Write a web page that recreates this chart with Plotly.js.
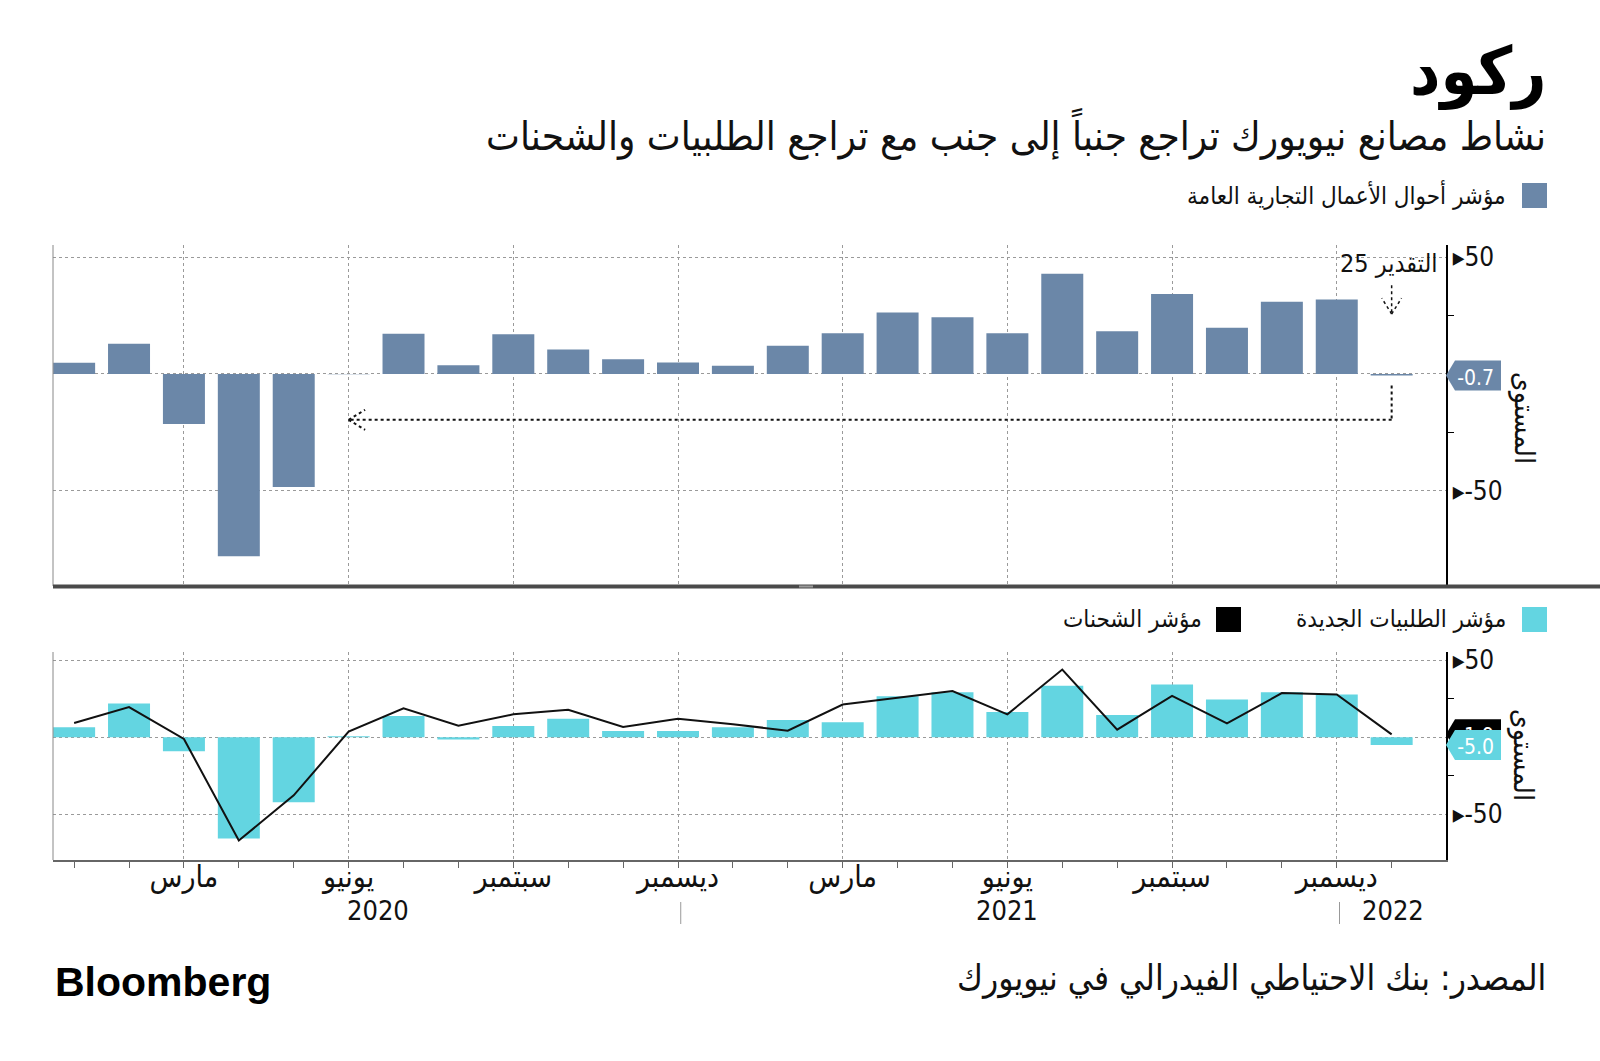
<!DOCTYPE html>
<html>
<head>
<meta charset="utf-8">
<script src="https://cdn.plot.ly/plotly-3.0.1.min.js"></script>
<style>
html,body{margin:0;padding:0;background:#fff;}
#chart{width:1600px;height:1061px;}
</style>
</head>
<body>
<div id="chart"></div>
<script>
// ---- data ----
const months = ['2020-01','2020-02','2020-03','2020-04','2020-05','2020-06','2020-07','2020-08','2020-09','2020-10','2020-11','2020-12',
                '2021-01','2021-02','2021-03','2021-04','2021-05','2021-06','2021-07','2021-08','2021-09','2021-10','2021-11','2021-12','2022-01'];
const businessIndex = [4.8, 12.9, -21.5, -78.2, -48.5, -0.2, 17.2, 3.7, 17.0, 10.5, 6.3, 4.9,
                       3.5, 12.1, 17.4, 26.3, 24.3, 17.4, 43.0, 18.3, 34.3, 19.8, 30.9, 31.9, -0.7];
const newOrders = [6.5, 22.0, -9.0, -65.7, -42.2, 0.7, 13.8, -1.5, 7.3, 12.1, 4.1, 4.1,
                   6.5, 11.2, 9.7, 26.7, 29.3, 16.4, 33.4, 14.4, 34.3, 24.6, 29.3, 27.8, -5.0];
const shipments = [9.3, 19.6, -1.1, -67.0, -37.7, 3.7, 18.8, 7.5, 14.9, 17.9, 6.7, 12.1,
                   8.5, 4.3, 21.3, 25.5, 30.0, 14.9, 44.0, 5.0, 26.9, 9.0, 28.7, 27.8, 1.9];
const monthTickLabels = ['مارس','يونيو','سبتمبر','ديسمبر','مارس','يونيو','سبتمبر','ديسمبر'];
const monthTickIdx = [2,5,8,11,14,17,20,23];
const yearLabels = ['2020','2021','2022'];
const yTickVals = [-50, 0, 50];
const yTickText = ['▸-50', '', '▸50'];

const titleText = 'ركود';
const subtitleText = 'نشاط مصانع نيويورك تراجع جنباً إلى جنب مع تراجع الطلبيات والشحنات';
const legendBusiness = 'مؤشر أحوال الأعمال التجارية العامة';
const legendOrders = 'مؤشر الطلبيات الجديدة';
const legendShip = 'مؤشر الشحنات';
const yTitle = 'المستوى';
const estimateText = '\u202Bالتقدير 25\u202C';
const sourceText = 'المصدر: بنك الاحتياطي الفيدرالي في نيويورك';

// ---- styling ----
const W = 1600, H = 1061;
const px = v => v / W;
const py = v => 1 - v / H;
const slate = '#6b87a8';
const cyan = '#63d5e1';
const AR = '"DejaVu Sans Condensed", "DejaVu Sans", sans-serif';
const NUM = '"Liberation Sans Narrow", "DejaVu Sans Condensed", sans-serif';
const x = months.map((m, i) => i);
const xRange = [-0.385, 24.99];
const xDom = [px(53), px(1446)];
const yDomTop = [py(586), py(245)];
const yDomBot = [py(860), py(652)];
const gridStyle = {showgrid: true, gridcolor: '#9a9a9a', gridwidth: 1, griddash: 'dot', zeroline: false};

const traces = [
  {type: 'bar', x: x, y: businessIndex, xaxis: 'x', yaxis: 'y', marker: {color: slate}, hoverinfo: 'y'},
  {type: 'bar', x: x, y: newOrders, xaxis: 'x2', yaxis: 'y2', marker: {color: cyan}, hoverinfo: 'y'},
  {type: 'scatter', mode: 'lines', x: x, y: shipments, xaxis: 'x2', yaxis: 'y2', line: {color: '#111', width: 2}, hoverinfo: 'y'}
];

function yAxis(dom, range, anchor) {
  return Object.assign({
    domain: dom, range: range, anchor: anchor, side: 'right',
    showline: true, linecolor: '#000', linewidth: 1.5,
    tickmode: 'array', tickvals: yTickVals, ticktext: yTickText, ticks: '',
    tickfont: {family: NUM, size: 26, color: '#111'},
    minor: {tickmode: 'array', tickvals: [-25, 25], ticks: 'outside', ticklen: 6, tickcolor: '#000', showgrid: false},
    fixedrange: true
  }, gridStyle);
}

function tag(yref, value, color, text) {
  return {
    type: 'path', xref: 'paper', yref: yref, xsizemode: 'pixel', ysizemode: 'pixel',
    xanchor: px(1446), yanchor: value,
    path: 'M 0,0 L 9,15 L 55,15 L 55,-15 L 9,-15 Z',
    fillcolor: color, line: {width: 0},
    label: {text: text, font: {family: NUM, size: 21, color: '#fff'}, textposition: 'middle right', padding: 4}
  };
}

const dotLine = {color: '#111', width: 2, dash: 'dot'};
const shapes = [
  // left borders
  {type: 'line', xref: 'paper', yref: 'paper', x0: px(53), x1: px(53), y0: yDomTop[0], y1: yDomTop[1], line: {color: '#888', width: 1}},
  {type: 'line', xref: 'paper', yref: 'paper', x0: px(53), x1: px(53), y0: yDomBot[0], y1: yDomBot[1], line: {color: '#888', width: 1}},
  // separator
  {type: 'line', xref: 'paper', yref: 'paper', x0: px(53), x1: 1, y0: py(586.5), y1: py(586.5), line: {color: '#4a4a4a', width: 4}},
  {type: 'rect', xref: 'paper', yref: 'paper', x0: px(799), x1: px(813), y0: py(587.5), y1: py(585.5), fillcolor: '#9a9a9a', line: {width: 0}},
  // callout from Jan 2022 back to Jun 2020
  {type: 'line', xref: 'x', yref: 'y', x0: 24, x1: 24, y0: -5, y1: -19.7, line: dotLine},
  {type: 'line', xref: 'x', yref: 'y', x0: 24, x1: 5, y0: -19.7, y1: -19.7, line: dotLine},
  {type: 'line', xref: 'x', yref: 'y', x0: 5, x1: 5.3, y0: -19.7, y1: -15.4, line: dotLine},
  {type: 'line', xref: 'x', yref: 'y', x0: 5, x1: 5.3, y0: -19.7, y1: -24.0, line: dotLine},
  // estimate arrow
  {type: 'line', xref: 'x', yref: 'y', x0: 24, x1: 24, y0: 38, y1: 25.7, line: {color: '#111', width: 1.5, dash: 'dot'}},
  {type: 'line', xref: 'x', yref: 'y', x0: 24, x1: 23.82, y0: 25.7, y1: 32.5, line: {color: '#111', width: 1.5, dash: 'dot'}},
  {type: 'line', xref: 'x', yref: 'y', x0: 24, x1: 24.18, y0: 25.7, y1: 32.5, line: {color: '#111', width: 1.5, dash: 'dot'}},
  // year separators
  {type: 'line', xref: 'x2', yref: 'paper', x0: 11.05, x1: 11.05, y0: py(924), y1: py(902), line: {color: '#999', width: 1}},
  {type: 'line', xref: 'x2', yref: 'paper', x0: 23.05, x1: 23.05, y0: py(924), y1: py(902), line: {color: '#999', width: 1}},
  // legend squares
  {type: 'rect', xref: 'paper', yref: 'paper', x0: px(1522), x1: px(1547), y0: py(208), y1: py(183), fillcolor: slate, line: {width: 0}},
  {type: 'rect', xref: 'paper', yref: 'paper', x0: px(1522), x1: px(1547), y0: py(632), y1: py(607), fillcolor: cyan, line: {width: 0}},
  {type: 'rect', xref: 'paper', yref: 'paper', x0: px(1216), x1: px(1241), y0: py(632), y1: py(607), fillcolor: '#000', line: {width: 0}},
  // value tags
  tag('y', businessIndex[businessIndex.length - 1], slate, businessIndex[businessIndex.length - 1].toFixed(1)),
  tag('y2', shipments[shipments.length - 1], '#000', shipments[shipments.length - 1].toFixed(1)),
  tag('y2', newOrders[newOrders.length - 1], cyan, newOrders[newOrders.length - 1].toFixed(1))
];

function txt(t, xpx, ypx, size, opts) {
  return Object.assign({
    text: t, xref: 'paper', yref: 'paper', x: px(xpx), y: py(ypx),
    xanchor: 'right', yanchor: 'middle', showarrow: false,
    font: {family: AR, size: size, color: '#111'}
  }, opts || {});
}

const annotations = [
  txt('<b>' + titleText + '</b>', 1548, 72, 66, {font: {family: AR, size: 66, color: '#000'}}),
  txt(subtitleText, 1548, 134, 40),
  txt(legendBusiness, 1508, 195, 24),
  txt(legendOrders, 1508, 619, 24),
  txt(legendShip, 1204, 619, 24),
  txt(sourceText, 1548, 978, 35),
  txt('<b>Bloomberg</b>', 53, 982, 40, {xanchor: 'left', font: {family: '"Liberation Sans", Arial, sans-serif', size: 41, color: '#000'}}),
  txt(yTitle, 1524, 418, 28, {xanchor: 'center', textangle: 90}),
  txt(yTitle, 1524, 755, 28, {xanchor: 'center', textangle: 90}),
  txt(estimateText, 1440, 263, 25),
  {text: yearLabels[0], xref: 'x2', yref: 'paper', x: 5.53, y: py(910), xanchor: 'center', yanchor: 'middle', showarrow: false, font: {family: NUM, size: 27, color: '#111'}},
  {text: yearLabels[1], xref: 'x2', yref: 'paper', x: 17.0, y: py(910), xanchor: 'center', yanchor: 'middle', showarrow: false, font: {family: NUM, size: 27, color: '#111'}},
  {text: yearLabels[2], xref: 'x2', yref: 'paper', x: 24.02, y: py(910), xanchor: 'center', yanchor: 'middle', showarrow: false, font: {family: NUM, size: 27, color: '#111'}}
];

const layout = {
  width: W, height: H,
  margin: {l: 0, r: 0, t: 0, b: 0},
  paper_bgcolor: '#fff', plot_bgcolor: 'rgba(0,0,0,0)',
  showlegend: false,
  bargap: 0.235,
  xaxis: Object.assign({domain: xDom, range: xRange, anchor: 'y', tickmode: 'array', tickvals: monthTickIdx,
    showticklabels: false, ticks: '', showline: false, fixedrange: true}, gridStyle),
  yaxis: yAxis(yDomTop, [-91, 55.3], 'x'),
  xaxis2: Object.assign({domain: xDom, range: xRange, anchor: 'y2', tickmode: 'array', tickvals: monthTickIdx, ticktext: monthTickLabels,
    ticks: 'outside', ticklen: 6, tickcolor: '#666', showline: true, linecolor: '#666', linewidth: 1.5,
    tickfont: {family: AR, size: 30, color: '#111'}, ticklabelstandoff: -17,
    minor: {tickmode: 'linear', tick0: 0, dtick: 1, ticks: 'outside', ticklen: 6, tickcolor: '#666', showgrid: false},
    fixedrange: true}, gridStyle),
  yaxis2: yAxis(yDomBot, [-79.7, 55.4], 'x2'),
  shapes: shapes,
  annotations: annotations
};

Plotly.newPlot('chart', traces, layout, {displayModeBar: false, staticPlot: true});
</script>
</body>
</html>
